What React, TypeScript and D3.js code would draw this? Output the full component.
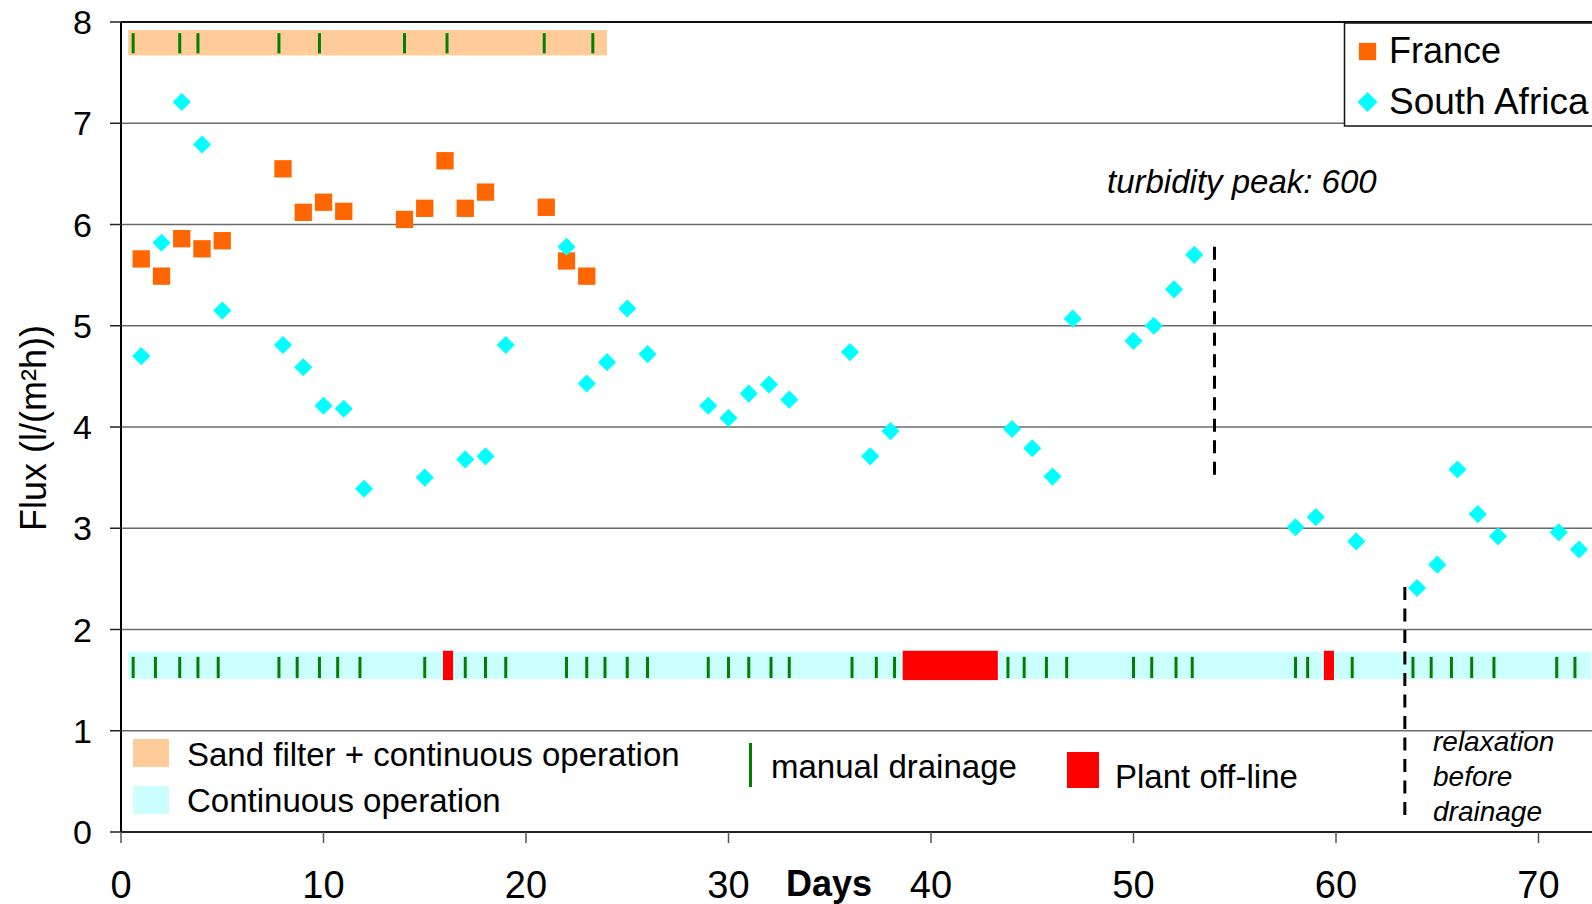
import { useEffect, useRef } from 'react'
import * as d3 from 'd3'

// flux readings (l/(m²h)) per day
const franceDays = [1, 2, 3, 4, 5, 8, 9, 10, 11, 14, 15, 16, 17, 18, 21, 22, 23]
const franceFlux = [5.66, 5.49, 5.86, 5.76, 5.84, 6.55, 6.12, 6.22, 6.13, 6.05, 6.16, 6.63, 6.16, 6.32, 6.17, 5.64, 5.49]

const saDays = [1, 2, 3, 4, 5, 8, 9, 10, 11, 12, 15, 17, 18, 19, 22, 23, 24, 25, 26, 29, 30, 31, 32, 33, 36, 37, 38, 44, 45, 46, 47, 50, 51, 52, 53, 58, 59, 61, 64, 65, 66, 67, 68, 71, 72]
const saFlux = [4.70, 5.82, 7.21, 6.79, 5.15, 4.81, 4.59, 4.21, 4.18, 3.39, 3.50, 3.68, 3.71, 4.81, 5.78, 4.43, 4.64, 5.17, 4.72, 4.21, 4.09, 4.33, 4.42, 4.27, 4.74, 3.71, 3.96, 3.98, 3.79, 3.51, 5.07, 4.85, 5.00, 5.36, 5.70, 3.01, 3.11, 2.87, 2.41, 2.64, 3.58, 3.14, 2.92, 2.96, 2.79]

// operation periods [start day, end day]
const sandFilterPeriod = [0.35, 24.0]
const continuousPeriod = [0.35, 72.6]
const offlinePeriods = [[15.9, 16.4], [38.6, 43.3], [59.4, 59.9]]

// manual drainage events
const drainageSand = [0.6, 2.9, 3.8, 7.8, 9.8, 14.0, 16.1, 20.9, 23.3]
const drainageContinuous = [0.6, 1.7, 2.9, 3.8, 4.8, 7.8, 8.7, 9.8, 10.7, 11.8, 15.0, 17.0, 18.0, 19.0, 22.0, 23.0, 23.9, 25.0, 26.0, 29.0, 30.0, 31.0, 32.1, 33.0, 36.1, 37.3, 38.2, 43.8, 44.6, 45.7, 46.7, 50.0, 50.9, 52.1, 52.9, 58.0, 58.6, 60.8, 63.8, 64.7, 65.7, 66.7, 67.8, 70.9, 71.8]

// dashed event markers: [day, from flux, to flux]
const turbidityMark = [54, 5.78, 3.51]
const relaxationMark = [63.4, 2.42, 0.14]

const xTicks = [0, 10, 20, 30, 40, 50, 60, 70]
const yTicks = [0, 1, 2, 3, 4, 5, 6, 7, 8]

const FONT = '"Liberation Sans", Arial, sans-serif'
const ORANGE = '#FF6600'
const CYAN = '#00FFFF'
const SAND = '#FFCC99'
const LIGHTCYAN = '#CCFFFF'
const GREEN = '#008000'

const App = () => {
  const svgRef = useRef<SVGSVGElement>(null)

  useEffect(() => {
    if (!svgRef.current) return
    const width = 1592
    const height = 904

    d3.select(svgRef.current).selectAll('*').remove()
    const svg = d3.select(svgRef.current)
      .attr('width', width)
      .attr('height', height)
      .style('font-family', FONT)

    const x = d3.scaleLinear().domain([0, 70]).range([121, 1538.5])
    const y = d3.scaleLinear().domain([0, 8]).range([832, 22])

    // gridlines
    svg.append('g')
      .selectAll('line')
      .data(yTicks.filter(v => v > 0 && v < 8))
      .enter()
      .append('line')
      .attr('x1', x(0)).attr('x2', width)
      .attr('y1', d => y(d)).attr('y2', d => y(d))
      .attr('stroke', '#6b6b6b')
      .attr('stroke-width', 1.4)

    // top frame
    svg.append('line')
      .attr('x1', x(0)).attr('x2', width)
      .attr('y1', y(8)).attr('y2', y(8))
      .attr('stroke', '#111').attr('stroke-width', 2)

    // operation bands
    const band = (period: number[], lo: number, hi: number, color: string) =>
      svg.append('rect')
        .attr('x', x(period[0]))
        .attr('y', y(hi))
        .attr('width', x(period[1]) - x(period[0]))
        .attr('height', y(lo) - y(hi))
        .attr('fill', color)

    band(sandFilterPeriod, 7.67, 7.92, SAND)
    band(continuousPeriod, 1.51, 1.78, LIGHTCYAN)

    svg.append('g')
      .selectAll('rect')
      .data(offlinePeriods)
      .enter()
      .append('rect')
      .attr('x', d => x(d[0]))
      .attr('y', y(1.79))
      .attr('width', d => x(d[1]) - x(d[0]))
      .attr('height', y(1.5) - y(1.79))
      .attr('fill', '#FF0000')

    // drainage ticks
    const drains = (days: number[], lo: number, hi: number) =>
      svg.append('g')
        .selectAll('line')
        .data(days)
        .enter()
        .append('line')
        .attr('x1', d => x(d)).attr('x2', d => x(d))
        .attr('y1', y(hi)).attr('y2', y(lo))
        .attr('stroke', GREEN)
        .attr('stroke-width', 3)

    drains(drainageSand, 7.69, 7.89)
    drains(drainageContinuous, 1.52, 1.73)

    // dashed markers
    ;[turbidityMark, relaxationMark].forEach(m => {
      svg.append('line')
        .attr('x1', x(m[0])).attr('x2', x(m[0]))
        .attr('y1', y(m[1])).attr('y2', y(m[2]))
        .attr('stroke', '#000')
        .attr('stroke-width', 3)
        .attr('stroke-dasharray', '13,8.5')
    })

    // axes
    svg.append('line')
      .attr('x1', x(0)).attr('x2', x(0))
      .attr('y1', y(8)).attr('y2', y(0))
      .attr('stroke', '#000').attr('stroke-width', 2)
    svg.append('line')
      .attr('x1', x(0)).attr('x2', width)
      .attr('y1', y(0)).attr('y2', y(0))
      .attr('stroke', '#222').attr('stroke-width', 2)

    svg.append('g')
      .selectAll('line')
      .data(yTicks)
      .enter()
      .append('line')
      .attr('x1', x(0) - 11).attr('x2', x(0))
      .attr('y1', d => y(d)).attr('y2', d => y(d))
      .attr('stroke', '#222').attr('stroke-width', 1.5)

    svg.append('g')
      .selectAll('text')
      .data(yTicks)
      .enter()
      .append('text')
      .attr('x', 92)
      .attr('y', d => y(d) + 12)
      .attr('text-anchor', 'end')
      .attr('font-size', 34)
      .text(d => d)

    svg.append('g')
      .selectAll('line')
      .data(xTicks)
      .enter()
      .append('line')
      .attr('x1', d => x(d)).attr('x2', d => x(d))
      .attr('y1', y(0)).attr('y2', y(0) + 11)
      .attr('stroke', '#555').attr('stroke-width', 1.5)

    svg.append('g')
      .selectAll('text')
      .data(xTicks)
      .enter()
      .append('text')
      .attr('x', d => x(d))
      .attr('y', 898)
      .attr('text-anchor', 'middle')
      .attr('font-size', 38)
      .text(d => d)

    svg.append('text')
      .attr('x', 829).attr('y', 896)
      .attr('text-anchor', 'middle')
      .attr('font-size', 36)
      .attr('font-weight', 'bold')
      .text('Days')

    svg.append('text')
      .attr('transform', 'translate(46,428) rotate(-90)')
      .attr('text-anchor', 'middle')
      .attr('font-size', 36)
      .text('Flux (l/(m²h))')

    // data points
    const square = d3.symbol().type(d3.symbolSquare).size(300)
    const diamond = d3.symbol().type(d3.symbolSquare).size(165)

    svg.append('g')
      .selectAll('path')
      .data(franceDays.map((d, i) => ({ day: d, flux: franceFlux[i] })))
      .enter()
      .append('path')
      .attr('d', square)
      .attr('transform', d => `translate(${x(d.day)},${y(d.flux)})`)
      .attr('fill', ORANGE)

    svg.append('g')
      .selectAll('path')
      .data(saDays.map((d, i) => ({ day: d, flux: saFlux[i] })))
      .enter()
      .append('path')
      .attr('d', diamond)
      .attr('transform', d => `translate(${x(d.day)},${y(d.flux)}) rotate(45)`)
      .attr('fill', CYAN)

    // annotations
    svg.append('text')
      .attr('x', 1107).attr('y', 193)
      .attr('font-size', 33)
      .attr('font-style', 'italic')
      .text('turbidity peak: 600')

    ;['relaxation', 'before', 'drainage'].forEach((t, i) => {
      svg.append('text')
        .attr('x', 1433).attr('y', 751 + i * 35)
        .attr('font-size', 28)
        .attr('font-style', 'italic')
        .text(t)
    })

    // series legend
    const lg = svg.append('g')
    lg.append('rect')
      .attr('x', 1344.5).attr('y', 23)
      .attr('width', 300).attr('height', 103)
      .attr('fill', '#fff')
      .attr('stroke', '#111').attr('stroke-width', 1.5)
    lg.append('path')
      .attr('d', square)
      .attr('transform', 'translate(1367.5,51.5)')
      .attr('fill', ORANGE)
    lg.append('path')
      .attr('d', d3.symbol().type(d3.symbolSquare).size(200))
      .attr('transform', 'translate(1367.5,102) rotate(45)')
      .attr('fill', CYAN)
    lg.append('text').attr('x', 1389).attr('y', 63).attr('font-size', 36).text('France')
    lg.append('text').attr('x', 1389).attr('y', 114).attr('font-size', 37).text('South Africa')

    // operation legend
    const ol = svg.append('g').attr('font-size', 33)
    ol.append('rect').attr('x', 133).attr('y', 739).attr('width', 36).attr('height', 28).attr('fill', SAND)
    ol.append('rect').attr('x', 133).attr('y', 786).attr('width', 36).attr('height', 28).attr('fill', LIGHTCYAN)
    ol.append('text').attr('x', 187).attr('y', 766).text('Sand filter + continuous operation')
    ol.append('text').attr('x', 187).attr('y', 812).text('Continuous operation')
    ol.append('line')
      .attr('x1', 750.5).attr('x2', 750.5).attr('y1', 743).attr('y2', 787)
      .attr('stroke', GREEN).attr('stroke-width', 3)
    ol.append('text').attr('x', 771).attr('y', 778).text('manual drainage')
    ol.append('rect').attr('x', 1067).attr('y', 752).attr('width', 32).attr('height', 36).attr('fill', '#FF0000')
    ol.append('text').attr('x', 1115).attr('y', 788).text('Plant off-line')
  }, [])

  return (
    <div>
      <style>{'body{margin:0;overflow:hidden}'}</style>
      <svg ref={svgRef} style={{ display: 'block' }}></svg>
    </div>
  )
}

export default App
